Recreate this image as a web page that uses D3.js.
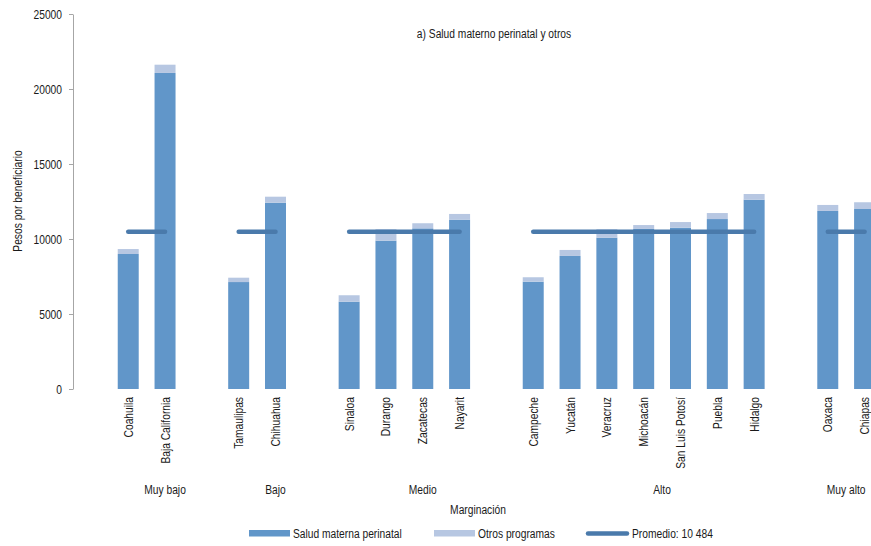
<!DOCTYPE html>
<html><head><meta charset="utf-8">
<script src="https://cdn.jsdelivr.net/npm/d3@7"></script>
<style>
html,body{margin:0;padding:0;background:#fff;}
svg text{font-family:"Liberation Sans Narrow","Liberation Sans",Arial,sans-serif;fill:#1a1a1a;}
</style></head>
<body><svg id="c" width="871" height="546"></svg>
<script>
const groups = ["Muy bajo","Bajo","Medio","Alto","Muy alto"];
const groupStates = [
  ["Coahuila","Baja California"],
  ["Tamaulipas","Chihuahua"],
  ["Sinaloa","Durango","Zacatecas","Nayarit"],
  ["Campeche","Yucatán","Veracruz","Michoacán","San Luis Potosí","Puebla","Hidalgo"],
  ["Oaxaca","Chiapas"]
];
const salud = [9000,21070,7130,12420,5820,9890,10710,11290,7150,8870,10090,10670,10750,11330,12620,11870,12000];
const otros = [330,550,290,400,430,760,340,380,300,400,560,260,380,400,380,400,450];
const promedio = 10484;
const yTicks = [0,5000,10000,15000,20000,25000];
const legendLabels = ["Salud materna perinatal","Otros programas","Promedio: 10 484"];
const title = "a) Salud materno perinatal y otros";
const yTitle = "Pesos por beneficiario";
const xTitle = "Marginación";

const cDark = "#6196c9", cLight = "#b7c7e2", cLine = "#4a7aab";
const SX = 0.82; // condensed text

const slots = ["_e0"];
const states = [];
groupStates.forEach((g,i)=>{
  g.forEach(s=>{slots.push(s); states.push(s);});
  if(i<groupStates.length-1) slots.push("_e"+(i+1));
});
const data = states.map((s,i)=>({state:s, salud:salud[i], otros:otros[i]}));

const svg = d3.select("#c");
const x = d3.scaleBand().domain(slots).range([73,883]).paddingInner(0.43).paddingOuter(0.215);
const y = d3.scaleLinear().domain([0,25000]).range([389,14]);

function txt(sel, tx, ty, rot){
  return sel.attr("transform", `translate(${tx},${ty})${rot?` rotate(${rot})`:""} scale(${SX},1)`);
}

// y axis
const ya = svg.append("g").attr("transform","translate(73,0)")
  .call(d3.axisLeft(y).tickValues(yTicks).tickSize(4).tickSizeOuter(0).tickPadding(7).tickFormat(d3.format("d")));
ya.select(".domain").attr("stroke","#a6a6a6");
ya.selectAll(".tick line").attr("stroke","#a6a6a6");
ya.selectAll(".tick text").style("font-size","12.5px").attr("fill","#1a1a1a")
  .attr("x",0).attr("transform",`translate(-11,0) scale(${SX},1)`);

// bars
const bw = x.bandwidth();
const bars = svg.append("g");
bars.selectAll("rect.s").data(data).join("rect")
  .attr("x",d=>x(d.state)).attr("width",bw)
  .attr("y",d=>y(d.salud)).attr("height",d=>y(0)-y(d.salud))
  .attr("fill",cDark);
bars.selectAll("rect.o").data(data).join("rect")
  .attr("x",d=>x(d.state)).attr("width",bw)
  .attr("y",d=>y(d.salud+d.otros)).attr("height",d=>y(d.salud)-y(d.salud+d.otros))
  .attr("fill",cLight);

// average lines per group
svg.append("g").selectAll("line").data(groupStates).join("line")
  .attr("x1",g=>x(g[0])+bw/2).attr("x2",g=>x(g[g.length-1])+bw/2)
  .attr("y1",y(promedio)).attr("y2",y(promedio))
  .attr("stroke",cLine).attr("stroke-width",4.5).attr("stroke-linecap","round");

// state labels
svg.append("g").selectAll("text").data(states).join("text")
  .attr("transform",d=>`translate(${x(d)+bw/2+4.5},397) rotate(-90) scale(${SX},1)`)
  .attr("text-anchor","end").style("font-size","12.5px").text(d=>d);

// group labels
svg.append("g").selectAll("text").data(groups).join("text")
  .attr("transform",(g,i)=>{
    const st = groupStates[i];
    const first = x(st[0]) - x.step()*x.paddingInner()/2;
    const lastSlot = i<groups.length-1 ? "_e"+(i+1) : st[st.length-1];
    const last = x(lastSlot) + bw + x.step()*x.paddingInner()/2;
    return `translate(${(first+last)/2},494) scale(${SX},1)`;
  })
  .attr("text-anchor","middle").style("font-size","12.5px").text(g=>g);

txt(svg.append("text"),(73+883)/2,514).attr("text-anchor","middle").style("font-size","12.5px").text(xTitle);
txt(svg.append("text"),494,38).attr("text-anchor","middle").style("font-size","12.5px").text(title);
txt(svg.append("text"),22,201,-90).attr("text-anchor","middle").style("font-size","12.5px").text(yTitle);

// legend
const lg = svg.append("g");
const lx = [249,434,586];
lg.append("rect").attr("x",lx[0]).attr("y",530).attr("width",41).attr("height",6.5).attr("fill",cDark);
lg.append("rect").attr("x",lx[1]).attr("y",530).attr("width",41).attr("height",6.5).attr("fill",cLight);
lg.append("line").attr("x1",lx[2]+2).attr("x2",lx[2]+41).attr("y1",533.5).attr("y2",533.5)
  .attr("stroke",cLine).attr("stroke-width",4.5).attr("stroke-linecap","round");
lg.selectAll("text").data(legendLabels).join("text")
  .attr("transform",(d,i)=>`translate(${lx[i]+(i===2?46:44)},538) scale(${SX},1)`)
  .style("font-size","12.5px").text(d=>d);
</script></body></html>
